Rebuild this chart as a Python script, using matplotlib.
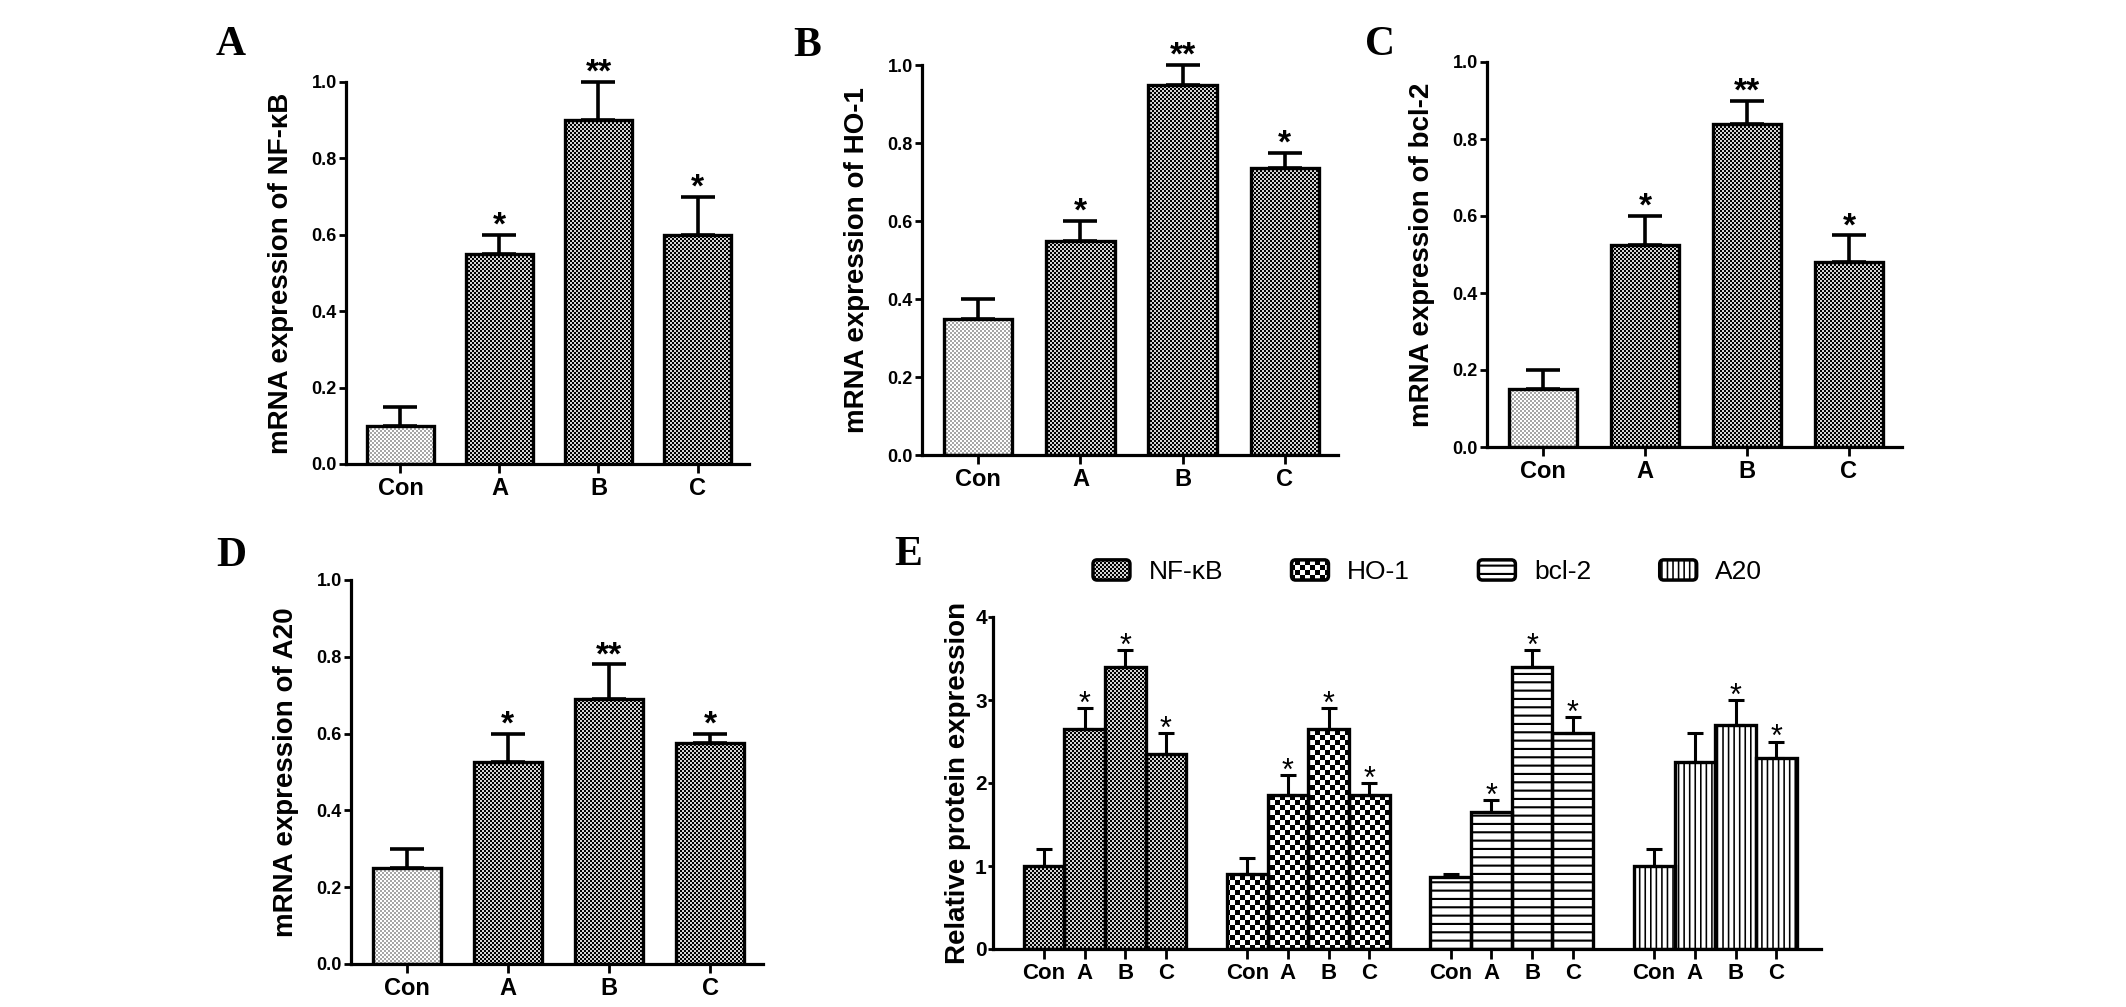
import numpy as np
import matplotlib
matplotlib.use('Agg')
import matplotlib.pyplot as plt
from matplotlib import hatch as mhatch
from matplotlib.path import Path
from matplotlib.patches import Patch, FancyBboxPatch
from matplotlib.legend_handler import HandlerPatch
from matplotlib.ticker import FormatStrFormatter

# ---------------- data ----------------
groups = ['Con', 'A', 'B', 'C']

nfkb_mrna = [0.10, 0.55, 0.90, 0.60]
nfkb_mrna_err = [0.05, 0.05, 0.10, 0.10]
nfkb_mrna_sig = ['', '*', '**', '*']

ho1_mrna = [0.35, 0.55, 0.95, 0.735]
ho1_mrna_err = [0.05, 0.05, 0.05, 0.04]
ho1_mrna_sig = ['', '*', '**', '*']

bcl2_mrna = [0.15, 0.525, 0.84, 0.48]
bcl2_mrna_err = [0.05, 0.075, 0.06, 0.07]
bcl2_mrna_sig = ['', '*', '**', '*']

a20_mrna = [0.25, 0.525, 0.69, 0.575]
a20_mrna_err = [0.05, 0.075, 0.09, 0.025]
a20_mrna_sig = ['', '*', '**', '*']

proteins = ['NF-κB', 'HO-1', 'bcl-2', 'A20']
nfkb_prot = [1.0, 2.65, 3.4, 2.35]
nfkb_prot_err = [0.2, 0.25, 0.2, 0.25]
nfkb_prot_sig = ['', '*', '*', '*']
ho1_prot = [0.9, 1.85, 2.65, 1.85]
ho1_prot_err = [0.2, 0.25, 0.25, 0.15]
ho1_prot_sig = ['', '*', '*', '*']
bcl2_prot = [0.87, 1.65, 3.4, 2.6]
bcl2_prot_err = [0.03, 0.15, 0.2, 0.2]
bcl2_prot_sig = ['', '*', '*', '*']
a20_prot = [1.0, 2.25, 2.7, 2.3]
a20_prot_err = [0.2, 0.35, 0.3, 0.2]
a20_prot_sig = ['', '', '*', '*']

# ---------------- custom fill textures (hatches) ----------------
def _rects(rects):
    verts = []
    codes = []
    for (x0, y0, x1, y1) in rects:
        verts += [(x0, y0), (x1, y0), (x1, y1), (x0, y1), (x0, y0)]
        codes += [Path.MOVETO, Path.LINETO, Path.LINETO, Path.LINETO, Path.CLOSEPOLY]
    return np.array(verts, float).reshape(-1, 2), np.array(codes)


class _Base(mhatch.HatchPatternBase):
    char = 'o'

    def __init__(self, hatch, density):
        on = hatch.count(self.char) > 0
        self.rects = self.make() if on else []
        self.num_vertices = 5 * len(self.rects)
        self.filled = True
        self.should_stroke = False

    def set_vertices_and_codes(self, vertices, codes):
        v, c = _rects(self.rects)
        vertices[:] = v
        codes[:] = c


class FineChecker(_Base):
    char = 'o'
    n = 50

    def make(self):
        s = 1.0 / self.n
        return [(i * s, j * s, (i + 1) * s, (j + 1) * s)
                for i in range(self.n) for j in range(self.n) if (i + j) % 2 == 0]


class CoarseChecker(FineChecker):
    char = 'O'
    n = 20


class HStripes(_Base):
    char = '-'
    n = 12
    t = 0.021

    def make(self):
        return [(0.0, j / self.n, 1.0, j / self.n + self.t) for j in range(self.n)]


class VStripes(_Base):
    char = '|'
    n = 18
    t = 0.016

    def make(self):
        return [(j / self.n, 0.0, j / self.n + self.t, 1.0) for j in range(self.n)]


mhatch._hatch_types[:] = [FineChecker, CoarseChecker, HStripes, VStripes]

# ---------------- style ----------------
plt.rcParams['font.family'] = ['Liberation Sans', 'DejaVu Sans']
plt.rcParams['font.weight'] = 'bold'
plt.rcParams['hatch.linewidth'] = 0.0

W, H = 2126, 1007
fig = plt.figure(figsize=(W / 100, H / 100), dpi=100)


def axpos(l, r, b, t):
    return [l / W, 1 - b / H, (r - l) / W, (b - t) / H]


def style(ax, ylen=5, xlen=6.5):
    for s in ['top', 'right']:
        ax.spines[s].set_visible(False)
    for s in ['left', 'bottom']:
        ax.spines[s].set_linewidth(2.3)
        ax.spines[s].set_capstyle('projecting')
    ax.tick_params(axis='y', direction='out', width=2, length=ylen, pad=1.5)
    ax.tick_params(axis='x', direction='out', width=2, length=xlen, pad=3)


def draw_bars(ax, x, vals, errs, width, hatches, hcolors, faces, capsize, elw):
    ax.bar(x, vals, width, color=faces, edgecolor=hcolors, hatch=hatches,
           lw=0, zorder=2)
    ax.bar(x, vals, width, facecolor='none', edgecolor='black', lw=2.4, zorder=3)
    cont = ax.errorbar(x, vals, yerr=[np.zeros(len(vals)), errs], fmt='none',
                       ecolor='black', elinewidth=elw, capsize=capsize,
                       capthick=elw, zorder=4)
    for art in list(cont.lines[1]) + list(cont.lines[2]):
        art.set_clip_on(False)


def mrna_panel(rect, vals, errs, sig, ylabel, letter, letter_xy):
    ax = fig.add_axes(axpos(*rect))
    x = np.arange(len(groups))
    draw_bars(ax, x, vals, errs, 0.67, ['o'] * 4,
              ['#a6a6a6', 'black', 'black', 'black'],
              ['white', '#d4d4d4', '#d4d4d4', '#d4d4d4'], 12, 2.6)
    for xi, v, e, s in zip(x, vals, errs, sig):
        if s:
            ax.text(xi, v + e, s, ha='center', va='baseline', fontsize=24,
                    fontweight='bold')
    ax.set_xlim(-0.55, 3.52)
    ax.set_ylim(0, 1.0)
    ax.set_yticks(np.arange(0, 1.01, 0.2))
    ax.yaxis.set_major_formatter(FormatStrFormatter('%.1f'))
    ax.set_xticks(x)
    ax.set_xticklabels(groups)
    style(ax)
    ax.tick_params(axis='y', labelsize=13)
    ax.tick_params(axis='x', labelsize=17)
    ax.set_ylabel(ylabel, fontsize=20, fontweight='bold')
    wpx = rect[1] - rect[0]
    ax.yaxis.set_label_coords(-52 / wpx, 0.5)
    fig.text(letter_xy[0] / W, 1 - letter_xy[1] / H, letter, ha='center',
             va='center', fontsize=30, fontweight='bold',
             family=['Liberation Serif', 'DejaVu Serif'])
    return ax


mrna_panel((346, 749, 464, 82), nfkb_mrna, nfkb_mrna_err, nfkb_mrna_sig,
           'mRNA expression of NF-κB', 'A', (231, 45))
mrna_panel((922, 1338, 455, 65), ho1_mrna, ho1_mrna_err, ho1_mrna_sig,
           'mRNA expression of HO-1', 'B', (807, 46))
mrna_panel((1487, 1902, 447, 62), bcl2_mrna, bcl2_mrna_err, bcl2_mrna_sig,
           'mRNA expression of bcl-2', 'C', (1380, 45))
mrna_panel((351, 763, 964, 580), a20_mrna, a20_mrna_err, a20_mrna_sig,
           'mRNA expression of A20', 'D', (231, 556))

# ---------------- panel E ----------------
rectE = (993, 1821, 949, 617)
axE = fig.add_axes(axpos(*rectE))
prot_vals = [nfkb_prot, ho1_prot, bcl2_prot, a20_prot]
prot_errs = [nfkb_prot_err, ho1_prot_err, bcl2_prot_err, a20_prot_err]
prot_sigs = [nfkb_prot_sig, ho1_prot_sig, bcl2_prot_sig, a20_prot_sig]
prot_hatch = ['o', 'O', '-', '|']
prot_face = ['#d4d4d4', 'white', 'white', 'white']
tick_pos = []
tick_lab = []
handles = []
for g, (vals, errs, sigs, h, fc, name) in enumerate(zip(prot_vals, prot_errs, prot_sigs,
                                                        prot_hatch, prot_face, proteins)):
    x = g * (len(groups) + 1) + np.arange(len(groups))
    draw_bars(axE, x, vals, errs, 1.0, h, 'black', fc, 6, 2.2)
    for xi, v, e, s in zip(x, vals, errs, sigs):
        if s:
            axE.annotate(s, (xi, v + e), xytext=(0, -3.5), textcoords='offset points',
                         ha='center', va='baseline', fontsize=22, fontweight='normal')
    tick_pos += list(x)
    tick_lab += groups
    handles.append(Patch(facecolor=fc, edgecolor='black', hatch=h, lw=2.5,
                         label=name))

axE.set_xlim(-1.25, 19.1)
axE.set_ylim(0, 4)
axE.set_yticks([0, 1, 2, 3, 4])
axE.set_xticks(tick_pos)
axE.set_xticklabels(tick_lab)
style(axE, ylen=3.5, xlen=7)
axE.tick_params(axis='y', labelsize=15, pad=1)
axE.tick_params(axis='x', labelsize=16)
axE.set_ylabel('Relative protein expression', fontsize=20, fontweight='bold')
axE.yaxis.set_label_coords(-22 / (rectE[1] - rectE[0]), 0.5)
fig.text(908 / W, 1 - 555 / H, 'E', ha='center', va='center', fontsize=30,
         fontweight='bold', family=['Liberation Serif', 'DejaVu Serif'])


class RoundHandler(HandlerPatch):
    def create_artists(self, legend, orig_handle, xdescent, ydescent, width,
                       height, fontsize, trans):
        p = FancyBboxPatch((-xdescent, -ydescent), width, height,
                           boxstyle='round,pad=0,rounding_size=3',
                           facecolor=orig_handle.get_facecolor(), edgecolor='black',
                           hatch=orig_handle.get_hatch(), lw=2.5, transform=trans)
        return [p]


fig.legend(handles=handles, loc='center left',
           bbox_to_anchor=(1093 / W, 1 - 572 / H), ncol=4, frameon=False,
           prop={'size': 19, 'weight': 'normal'}, handlelength=1.4,
           handleheight=0.8, handletextpad=0.7, columnspacing=2.6,
           borderpad=0, borderaxespad=0,
           handler_map={Patch: RoundHandler()})

fig.savefig('out.png', dpi=100)
